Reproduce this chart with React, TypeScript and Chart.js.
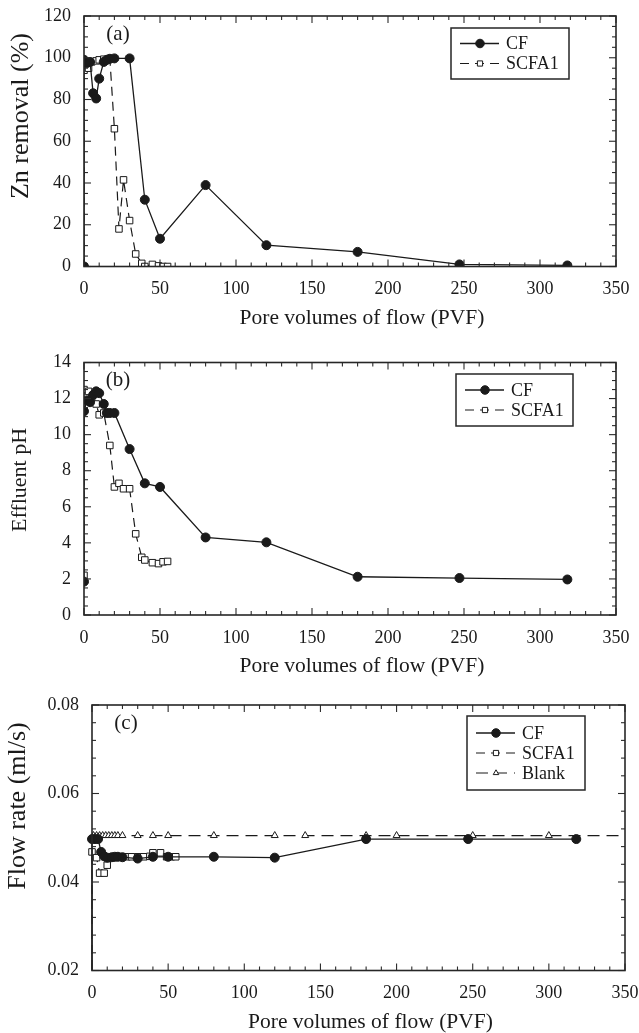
import React, { useEffect, useRef } from "react";
import { Chart, registerables } from "chart.js";

Chart.register(...registerables);

const FONT = '"Liberation Serif", "Times New Roman", Times, serif';
const INK = "#1a1a1a";

// ---------------- data ----------------
// x values (pore volumes of flow) for each series
const cfPvf = [0, 0, 2, 4, 6, 8, 10, 13, 15, 17, 20, 30, 40, 50, 80, 120, 180, 247, 318];
const scfaPvf = [0, 0, 3, 5, 8, 10, 13, 17, 20, 23, 26, 30, 34, 38, 40, 45, 49, 52, 55];
const blankPvf = [1, 3, 5, 7, 9, 11, 13, 15, 17, 20, 30, 40, 50, 80, 120, 140, 180, 200, 250, 300, 360];

// (a) Zn removal (%)
const cfZnRemoval = [0, 99, 97.5, 98, 83, 80.5, 90, 98, 99, 99.5, 99.7, 99.7, 32, 13.3, 39, 10.2, 7, 1, 0.5];
const scfaZnRemoval = [0, 94, 95, 98, 98.5, 99, 99.3, 99.6, 66, 18, 41.5, 22, 6, 1.5, 0, 1, 0.3, 0, 0];

// (b) Effluent pH
const cfPH = [1.85, 11.3, 11.9, 11.8, 12.2, 12.4, 12.3, 11.7, 11.2, 11.2, 11.2, 9.2, 7.3, 7.1, 4.3, 4.03, 2.12, 2.05, 1.97];
const scfaPH = [2.2, 12.5, 12.4, 12.0, 11.7, 11.1, 11.2, 9.4, 7.1, 7.3, 7.0, 7.0, 4.5, 3.2, 3.05, 2.9, 2.85, 2.95, 2.97];

// (c) Flow rate (ml/s)
const cfFlow = [0, 0.0497, 0.0497, 0.0497, 0.0468, 0.0458, 0.0455, 0.0456, 0.0457, 0.0457, 0.0456, 0.0453, 0.0457, 0.0457, 0.0457, 0.0455, 0.0497, 0.0497, 0.0497];
const scfaFlow = [0, 0.0468, 0.0455, 0.042, 0.042, 0.0438, 0.0455, 0.0457, 0.0457, 0.0457, 0.0457, 0.0457, 0.0457, 0.0458, 0.0466, 0.0466, 0.0457, 0.0457, 0.0457];
const blankFlow = [0.0505, 0.0505, 0.0505, 0.0505, 0.0505, 0.0505, 0.0505, 0.0505, 0.0505, 0.0505, 0.0505, 0.0505, 0.0505, 0.0505, 0.0505, 0.0505, 0.0505, 0.0505, 0.0505, 0.0505, 0.0505];

// tick labels
const xTickValues = [0, 50, 100, 150, 200, 250, 300, 350];
const yTicksA = [0, 20, 40, 60, 80, 100, 120];
const yTicksB = [0, 2, 4, 6, 8, 10, 12, 14];
const yTicksC = [0.02, 0.04, 0.06, 0.08];

const xTitle = "Pore volumes of flow (PVF)";

// ---------------- styles ----------------
const styles: Record<string, any> = {
  cf: {
    borderColor: INK,
    borderWidth: 1.3,
    borderDash: [],
    pointStyle: "circle",
    pointRadius: 4.5,
    pointBackgroundColor: INK,
    pointBorderColor: INK,
    pointBorderWidth: 1,
  },
  scfa: {
    borderColor: INK,
    borderWidth: 1.2,
    borderDash: [9, 6],
    pointStyle: "rect",
    pointRadius: 4.6,
    pointBackgroundColor: "#ffffff",
    pointBorderColor: INK,
    pointBorderWidth: 1,
  },
  blank: {
    borderColor: INK,
    borderWidth: 1.2,
    borderDash: [12, 7],
    pointStyle: "triangle",
    pointRadius: 4,
    pointBackgroundColor: "#ffffff",
    pointBorderColor: INK,
    pointBorderWidth: 1,
  },
};

type Series = { label: string; xs: number[]; ys: number[]; style: string };
type Spec = {
  height: number;
  area: { left: number; right: number; top: number; bottom: number };
  yTicks: number[];
  yDecimals: number;
  yMinor: number;
  yTitle: string;
  yTitleX: number;
  yTitleY: number;
  yTitleSize: number;
  panelLabel: string;
  legend: { left: number; top: number; width: number; height: number; firstRow: number; rowGap: number };
  clip?: any;
  series: Series[];
};

const panels: Spec[] = [
  {
    height: 345,
    area: { left: 84, right: 616, top: 16, bottom: 266.5 },
    yTicks: yTicksA,
    yDecimals: 0,
    yMinor: 5,
    yTitle: "Zn removal (%)",
    yTitleX: 21,
    yTitleY: 116,
    yTitleSize: 26,
    panelLabel: "(a)",
    legend: { left: 451, top: 28, width: 118, height: 51, firstRow: 15.5, rowGap: 20 },
    series: [
      { label: "CF", xs: cfPvf, ys: cfZnRemoval, style: "cf" },
      { label: "SCFA1", xs: scfaPvf, ys: scfaZnRemoval, style: "scfa" },
    ],
  },
  {
    height: 345,
    area: { left: 84, right: 616, top: 17.5, bottom: 270 },
    yTicks: yTicksB,
    yDecimals: 0,
    yMinor: 0.5,
    yTitle: "Effluent pH",
    yTitleX: 20.5,
    yTitleY: 135,
    yTitleSize: 22,
    panelLabel: "(b)",
    legend: { left: 456, top: 29, width: 117, height: 52, firstRow: 16, rowGap: 20 },
    series: [
      { label: "CF", xs: cfPvf, ys: cfPH, style: "cf" },
      { label: "SCFA1", xs: scfaPvf, ys: scfaPH, style: "scfa" },
    ],
  },
  {
    height: 343,
    area: { left: 92, right: 625, top: 15, bottom: 280.5 },
    yTicks: yTicksC,
    yDecimals: 2,
    yMinor: 0.004,
    yTitle: "Flow rate (ml/s)",
    yTitleX: 18.5,
    yTitleY: 116,
    yTitleSize: 26,
    panelLabel: "(c)",
    legend: { left: 467, top: 26, width: 118, height: 74, firstRow: 17, rowGap: 20 },
    clip: { left: 8, top: 8, right: 0, bottom: 0 },
    series: [
      { label: "CF", xs: cfPvf, ys: cfFlow, style: "cf" },
      { label: "SCFA1", xs: scfaPvf, ys: scfaFlow, style: "scfa" },
      { label: "Blank", xs: blankPvf, ys: blankFlow, style: "blank" },
    ],
  },
];

// ---------------- drawing helpers ----------------
function drawMarker(ctx: CanvasRenderingContext2D, ds: any, x: number, y: number, scale: number) {
  const r = ds.pointRadius * scale;
  ctx.save();
  ctx.setLineDash([]);
  ctx.beginPath();
  if (ds.pointStyle === "circle") {
    ctx.arc(x, y, r, 0, Math.PI * 2);
  } else if (ds.pointStyle === "rect") {
    const s = r * Math.SQRT1_2;
    ctx.rect(x - s, y - s, 2 * s, 2 * s);
  } else {
    ctx.moveTo(x, y - r);
    ctx.lineTo(x + 0.866 * r, y + 0.5 * r);
    ctx.lineTo(x - 0.866 * r, y + 0.5 * r);
    ctx.closePath();
  }
  ctx.fillStyle = ds.pointBackgroundColor;
  ctx.fill();
  ctx.lineWidth = ds.pointBorderWidth;
  ctx.strokeStyle = ds.pointBorderColor;
  ctx.stroke();
  ctx.restore();
}

const decorPlugin = {
  id: "decor",
  afterDraw(chart: any, _args: any, opts: any) {
    const { ctx, chartArea: a } = chart;
    const xs = chart.scales.x;
    const ys = chart.scales.y;
    const seg = (x1: number, y1: number, x2: number, y2: number) => {
      ctx.beginPath();
      ctx.moveTo(x1, y1);
      ctx.lineTo(x2, y2);
      ctx.stroke();
    };
    ctx.save();
    ctx.strokeStyle = "#2b2b2b";
    ctx.lineWidth = 1.1;
    ctx.setLineDash([]);

    // inward major / minor ticks on all four sides
    const xCount = Math.round((xs.max - xs.min) / opts.xMinor);
    for (let k = 0; k <= xCount; k++) {
      const v = xs.min + k * opts.xMinor;
      const major = opts.xMajor.some((m: number) => Math.abs(m - v) < 1e-7);
      const len = major ? 7 : 4;
      const px = xs.getPixelForValue(v);
      seg(px, a.bottom, px, a.bottom - len);
      seg(px, a.top, px, a.top + len);
    }
    const yCount = Math.round((ys.max - ys.min) / opts.yMinor);
    for (let k = 0; k <= yCount; k++) {
      const v = ys.min + k * opts.yMinor;
      const major = opts.yMajor.some((m: number) => Math.abs(m - v) < 1e-7);
      const len = major ? 7 : 4;
      const py = ys.getPixelForValue(v);
      seg(a.left, py, a.left + len, py);
      seg(a.right, py, a.right - len, py);
    }

    // frame
    ctx.lineWidth = 1.6;
    ctx.strokeStyle = "#262626";
    ctx.strokeRect(a.left, a.top, a.right - a.left, a.bottom - a.top);

    ctx.fillStyle = INK;

    // panel label
    ctx.font = `21px ${FONT}`;
    ctx.textAlign = "center";
    ctx.textBaseline = "middle";
    ctx.fillText(opts.panelLabel, a.left + 34, a.top + 18);

    // axis titles
    ctx.font = `21.5px ${FONT}`;
    ctx.textBaseline = "alphabetic";
    ctx.fillText(opts.xTitle, (a.left + a.right) / 2 + 12, a.bottom + 57);
    ctx.save();
    ctx.translate(opts.yTitleX, opts.yTitleY);
    ctx.rotate(-Math.PI / 2);
    ctx.font = `${opts.yTitleSize}px ${FONT}`;
    ctx.textBaseline = "middle";
    ctx.fillText(opts.yTitle, 0, 0);
    ctx.restore();

    // legend
    const L = opts.legend;
    ctx.lineWidth = 1.5;
    ctx.strokeStyle = "#262626";
    ctx.fillStyle = "#ffffff";
    ctx.fillRect(L.left, L.top, L.width, L.height);
    ctx.strokeRect(L.left, L.top, L.width, L.height);
    chart.data.datasets.forEach((ds: any, i: number) => {
      const y = L.top + L.firstRow + i * L.rowGap;
      ctx.save();
      ctx.strokeStyle = ds.borderColor;
      ctx.lineWidth = ds.borderWidth;
      ctx.setLineDash(ds.borderDash || []);
      seg(L.left + 9, y, L.left + 48, y);
      ctx.restore();
      drawMarker(ctx, ds, L.left + 29, y, ds.pointStyle === "circle" ? 0.95 : 0.8);
      ctx.fillStyle = INK;
      ctx.font = `18px ${FONT}`;
      ctx.textAlign = "left";
      ctx.textBaseline = "middle";
      ctx.fillText(ds.label, L.left + 55, y + 1);
    });
    ctx.restore();
  },
};

function zeroPadding(s: any) {
  s.paddingTop = 0;
  s.paddingBottom = 0;
  s.paddingLeft = 0;
  s.paddingRight = 0;
}

function buildConfig(spec: Spec): any {
  const W = 639;
  const yMin = spec.yTicks[0];
  const yMax = spec.yTicks[spec.yTicks.length - 1];
  return {
    type: "line",
    data: {
      datasets: spec.series.map((s) => ({
        label: s.label,
        data: s.xs.map((x, i) => ({ x, y: s.ys[i] })),
        fill: false,
        tension: 0,
        clip: spec.clip,
        ...styles[s.style],
      })),
    },
    options: {
      animation: false,
      responsive: false,
      devicePixelRatio: 1,
      events: [],
      layout: { padding: { left: 0, top: spec.area.top, right: W - spec.area.right, bottom: 0 } },
      plugins: {
        legend: { display: false },
        tooltip: { enabled: false },
        decor: {
          xMajor: xTickValues,
          xMinor: 10,
          yMajor: spec.yTicks,
          yMinor: spec.yMinor,
          panelLabel: spec.panelLabel,
          xTitle,
          yTitle: spec.yTitle,
          yTitleX: spec.yTitleX,
          yTitleY: spec.yTitleY,
          yTitleSize: spec.yTitleSize,
          legend: spec.legend,
        },
      },
      scales: {
        x: {
          type: "linear",
          min: xTickValues[0],
          max: xTickValues[xTickValues.length - 1],
          afterBuildTicks: (s: any) => {
            s.ticks = xTickValues.map((v) => ({ value: v }));
          },
          afterFit: (s: any) => {
            s.height = spec.height - spec.area.bottom;
            zeroPadding(s);
          },
          ticks: {
            autoSkip: false,
            maxRotation: 0,
            padding: 12,
            color: INK,
            font: { family: FONT, size: 18 },
            callback: (v: any) => String(v),
          },
          grid: { display: false, drawTicks: false },
          border: { display: false },
        },
        y: {
          type: "linear",
          min: yMin,
          max: yMax,
          afterBuildTicks: (s: any) => {
            s.ticks = spec.yTicks.map((v) => ({ value: v }));
          },
          afterFit: (s: any) => {
            s.width = spec.area.left;
            zeroPadding(s);
          },
          ticks: {
            autoSkip: false,
            padding: 13,
            color: INK,
            font: { family: FONT, size: 18 },
            callback: (v: any) => Number(v).toFixed(spec.yDecimals),
          },
          grid: { display: false, drawTicks: false },
          border: { display: false },
        },
      },
    },
    plugins: [decorPlugin],
  };
}

function Panel({ spec }: { spec: Spec }) {
  const ref = useRef<HTMLCanvasElement | null>(null);
  useEffect(() => {
    if (!ref.current) return;
    const chart = new Chart(ref.current, buildConfig(spec));
    return () => chart.destroy();
  }, [spec]);
  return (
    <canvas
      ref={ref}
      width={639}
      height={spec.height}
      style={{ display: "block", width: 639, height: spec.height }}
    />
  );
}

export default function App() {
  return (
    <div style={{ position: "absolute", left: 0, top: 0, width: 639, height: 1033, background: "#ffffff" }}>
      {panels.map((p, i) => (
        <Panel key={i} spec={p} />
      ))}
    </div>
  );
}
